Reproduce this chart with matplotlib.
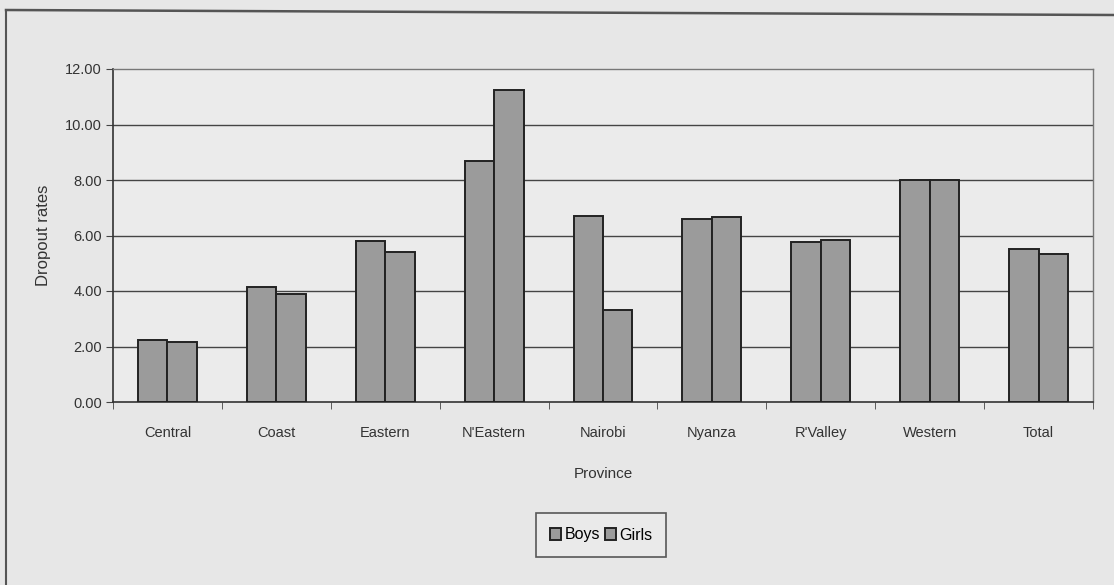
import matplotlib
matplotlib.use("Agg")
import matplotlib.pyplot as plt
import numpy as np
from matplotlib.lines import Line2D

provinces = ["Central", "Coast", "Eastern", "N'Eastern", "Nairobi", "Nyanza", "R'Valley", "Western", "Total"]
boys = [2.25, 4.15, 5.80, 8.70, 6.70, 6.60, 5.75, 8.00, 5.50]
girls = [2.17, 3.90, 5.40, 11.25, 3.30, 6.65, 5.85, 8.00, 5.35]
yticks = [0, 2, 4, 6, 8, 10, 12]
ytick_labels = ["0.00", "2.00", "4.00", "6.00", "8.00", "10.00", "12.00"]

plt.rcParams['font.family'] = ['Liberation Sans Narrow', 'Liberation Sans', 'DejaVu Sans']

bg = "#e7e7e7"
fig = plt.figure(figsize=(11.14, 5.85), dpi=100, facecolor=bg)
ax = fig.add_axes([113/1114, 1-402/585, (1093-113)/1114, (402-69)/585])
ax.set_facecolor("#ebebeb")

x = np.arange(len(provinces))
w = 0.27
bar_col = "#9b9b9b"
ax.bar(x - w/2, boys, w, color=bar_col, edgecolor="#222222", linewidth=1.4, label="Boys", zorder=3)
ax.bar(x + w/2, girls, w, color=bar_col, edgecolor="#222222", linewidth=1.4, label="Girls", zorder=3)

ax.set_xlim(-0.5, len(provinces) - 0.5)
ax.set_ylim(0, 12)
ax.set_yticks(yticks)
ax.set_yticklabels(ytick_labels, fontsize=10.5, color="#333333")
for yv in yticks[1:-1]:
    ax.axhline(yv, color="#444444", linewidth=1.0, zorder=1)

ax.set_xticks(x)
ax.set_xticklabels(provinces, fontsize=10.5, color="#333333")
ax.tick_params(axis='x', length=0, pad=17)
ax.set_xticks(np.arange(len(provinces) + 1) - 0.5, minor=True)
ax.tick_params(axis='x', which='minor', length=5, direction='out', color="#444444")
ax.tick_params(axis='y', length=5, direction='out', color="#444444", pad=3)

for s in ["left", "bottom"]:
    ax.spines[s].set_color("#333333")
    ax.spines[s].set_linewidth(1.2)
for s in ["top", "right"]:
    ax.spines[s].set_color("#777777")
    ax.spines[s].set_linewidth(1.0)

ax.set_ylabel("Dropout rates", fontsize=12, color="#333333", labelpad=10)
ax.set_xlabel("Province", fontsize=11, color="#333333", labelpad=20)

leg = fig.legend(loc="center", bbox_to_anchor=(601/1114, 1-535/585), ncol=2,
                 fontsize=11.5, frameon=True, fancybox=False, edgecolor="#333333",
                 handlelength=0.7, handleheight=0.7, handletextpad=0.2,
                 columnspacing=0.3, borderpad=0.9, borderaxespad=0)
leg.get_frame().set_facecolor("#ececec")
leg.get_frame().set_linewidth(1.2)

# outer frame of the chart (left and top edges visible in the scan)
fig.add_artist(Line2D([6/1114, 6/1114], [0, 1-12/585], color="#555555", lw=1.5, transform=fig.transFigure))
fig.add_artist(Line2D([6/1114, 1], [1-10/585, 1-15/585], color="#555555", lw=1.8, transform=fig.transFigure))

fig.savefig("out.png", dpi=100, facecolor=bg)
